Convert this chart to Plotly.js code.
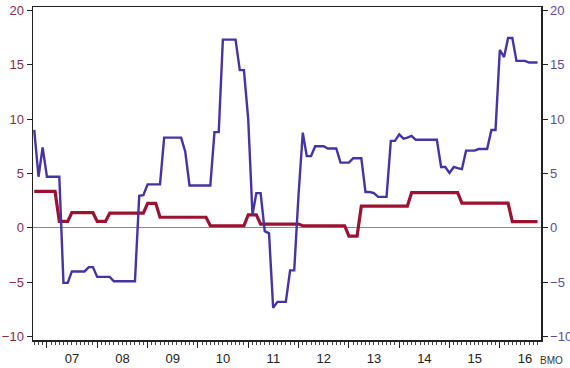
<!DOCTYPE html>
<html>
<head>
<meta charset="utf-8">
<script src="https://cdn.plot.ly/plotly-3.0.1.min.js"></script>
<style>
html,body{margin:0;padding:0;background:#fff;}
#chart{width:570px;height:368px;}
</style>
</head>
<body>
<div id="chart"></div>
<script>
// Monthly observations, Oct 2006 .. Oct 2016
const startYear = 2006, startMonth = 10;
const blueSeries = [
  9.0, 4.7, 7.4,
  4.7, 4.7, 4.7, 4.7, -5.05, -5.05, -4.0, -4.0, -4.0, -4.0, -3.6, -3.6,
  -4.5, -4.5, -4.5, -4.5, -4.9, -4.9, -4.9, -4.9, -4.9, -4.9, 2.95, 3.0,
  4.0, 4.0, 4.0, 4.0, 8.3, 8.3, 8.3, 8.3, 8.3, 7.0, 3.9, 3.9,
  3.9, 3.9, 3.9, 3.9, 8.8, 8.8, 17.3, 17.3, 17.3, 17.3, 14.5, 14.5,
  10.0, 1.2, 3.2, 3.2, -0.3, -0.5, -7.35, -6.8, -6.8, -6.8, -3.9, -3.9,
  3.0, 8.75, 6.6, 6.6, 7.5, 7.5, 7.5, 7.3, 7.3, 7.3, 6.0, 6.0,
  6.0, 6.4, 6.4, 6.4, 3.3, 3.3, 3.2, 2.85, 2.85, 2.85, 8.0, 8.0,
  8.6, 8.2, 8.3, 8.45, 8.1, 8.1, 8.1, 8.1, 8.1, 8.1, 5.6, 5.6,
  5.05, 5.6, 5.5, 5.4, 7.1, 7.1, 7.1, 7.25, 7.25, 7.25, 9.0, 9.0,
  16.35, 15.7, 17.45, 17.45, 15.35, 15.35, 15.35, 15.2, 15.2, 15.2
];
const redSeries = [
  3.35, 3.35, 3.35,
  3.35, 3.35, 3.35, 0.6, 0.6, 0.6, 1.4, 1.4, 1.4, 1.4, 1.4, 1.4,
  0.6, 0.6, 0.6, 1.35, 1.35, 1.35, 1.35, 1.35, 1.35, 1.35, 1.35, 1.35,
  2.25, 2.25, 2.25, 0.98, 0.98, 0.98, 0.98, 0.98, 0.98, 0.98, 0.98, 0.98,
  0.98, 0.98, 0.98, 0.2, 0.2, 0.2, 0.2, 0.2, 0.2, 0.2, 0.2, 0.2,
  1.2, 1.2, 1.2, 0.35, 0.35, 0.35, 0.35, 0.35, 0.35, 0.35, 0.35, 0.35,
  0.35, 0.2, 0.2, 0.2, 0.2, 0.2, 0.2, 0.2, 0.2, 0.2, 0.2, 0.2,
  -0.75, -0.75, -0.75, 2.0, 2.0, 2.0, 2.0, 2.0, 2.0, 2.0, 2.0, 2.0,
  2.0, 2.0, 2.0, 3.25, 3.25, 3.25, 3.25, 3.25, 3.25, 3.25, 3.25, 3.25,
  3.25, 3.25, 3.25, 2.27, 2.27, 2.27, 2.27, 2.27, 2.27, 2.27, 2.27, 2.27,
  2.27, 2.27, 2.27, 0.58, 0.58, 0.58, 0.58, 0.58, 0.58, 0.58
];
const yTicks = [-10, -5, 0, 5, 10, 15, 20];
const sourceLabel = "BMO";

function monthDates(n) {
  const out = [];
  for (let i = 0; i < n; i++) {
    const m0 = startMonth - 1 + i;
    const y = startYear + Math.floor(m0 / 12);
    const m = (m0 % 12) + 1;
    out.push(y + "-" + String(m).padStart(2, "0") + "-01");
  }
  return out;
}
const dates = monthDates(blueSeries.length);

const FONT = "Liberation Sans, Arial, sans-serif";
const redColor = "#9c1230";
const blueColor = "#4434a8";

const traces = [
  {x: dates, y: redSeries, type: "scatter", mode: "lines",
   line: {color: redColor, width: 3.2}, yaxis: "y", hoverinfo: "skip"},
  {x: dates, y: blueSeries, type: "scatter", mode: "lines",
   line: {color: blueColor, width: 2.4}, yaxis: "y2", hoverinfo: "skip"}
];

const layout = {
  width: 570, height: 368,
  margin: {l: 33, r: 29, t: 7, b: 28, pad: 0},
  paper_bgcolor: "#fff", plot_bgcolor: "#fff",
  showlegend: false,
  font: {family: FONT, size: 13, color: "#222"},
  xaxis: {
    type: "date",
    range: ["2006-09-22", "2016-10-26"],
    dtick: "M12", tick0: "2007-01-01",
    tickformat: "%y", ticklabelmode: "period",
    ticks: "outside", ticklen: 6, tickwidth: 1, tickcolor: "#222",
    minor: {dtick: "M1", ticks: "outside", ticklen: 3, tickwidth: 1, tickcolor: "#444", showgrid: false},
    showgrid: false, zeroline: false,
    showline: true, linecolor: "#222", linewidth: 1.5, mirror: true,
    tickfont: {family: FONT, size: 13, color: "#222"}
  },
  yaxis: {
    range: [-10.3, 20.3], tickvals: yTicks,
    ticks: "outside", ticklen: 5, tickcolor: "#222",
    showgrid: false,
    zeroline: true, zerolinecolor: "#8a8a8a", zerolinewidth: 1,
    showline: true, linecolor: "#222", linewidth: 1.5,
    tickfont: {family: FONT, size: 13, color: "#8e2a4a"}
  },
  yaxis2: {
    range: [-10.3, 20.3], tickvals: yTicks,
    overlaying: "y", side: "right",
    ticks: "outside", ticklen: 5, tickcolor: "#222",
    showgrid: false, zeroline: false,
    showline: true, linecolor: "#222", linewidth: 1.5,
    tickfont: {family: FONT, size: 13, color: "#5a4aa6"}
  },
  annotations: [
    {text: sourceLabel, xref: "paper", yref: "paper", x: 1.0, y: 0,
     xanchor: "left", yanchor: "top", xshift: -3, yshift: -13, showarrow: false,
     font: {family: FONT, size: 10, color: "#333"}}
  ]
};

Plotly.newPlot("chart", traces, layout, {staticPlot: true, displayModeBar: false});
</script>
</body>
</html>
